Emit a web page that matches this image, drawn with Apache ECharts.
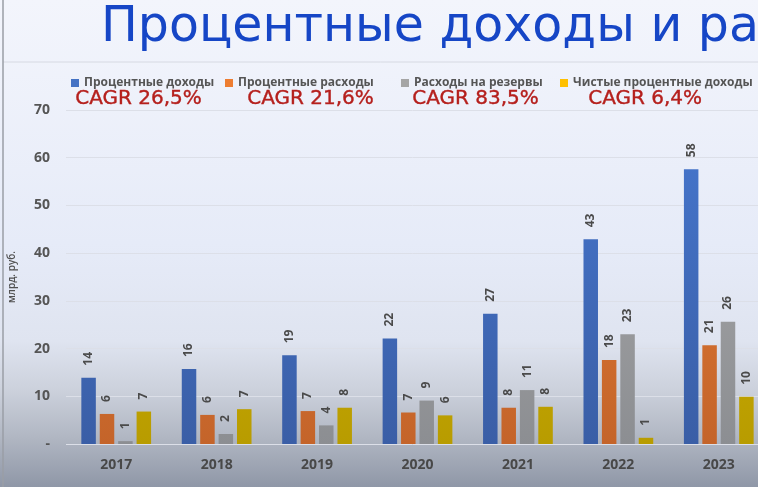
<!DOCTYPE html>
<html>
<head>
<meta charset="utf-8">
<script src="https://cdn.jsdelivr.net/npm/echarts@6/dist/echarts.min.js"></script>
<style>
html,body{margin:0;padding:0;overflow:hidden;}
#c{width:758px;height:487px;}
</style>
</head>
<body>
<div id="c"></div>
<script>
var categories = ['2017', '2018', '2019', '2020', '2021', '2022', '2023'];
var interestIncome = [13.9, 15.7, 18.6, 22.1, 27.3, 42.9, 57.6];
var interestExpense = [6.3, 6.1, 6.9, 6.6, 7.6, 17.6, 20.7];
var provisions = [0.6, 2.1, 3.9, 9.1, 11.3, 23.0, 25.6];
var netIncome = [6.8, 7.3, 7.6, 6.0, 7.8, 1.3, 9.9];
var seriesNames = ['Процентные доходы', 'Процентные расходы', 'Расходы на резервы', 'Чистые процентные доходы'];
var cagrTexts = ['CAGR 26,5%', 'CAGR 21,6%', 'CAGR 83,5%', 'CAGR 6,4%'];
var yTicks = [0, 10, 20, 30, 40, 50, 60, 70];

var chart = echarts.init(document.getElementById('c'));

function grad(top, bottom) {
  return new echarts.graphic.LinearGradient(0, 110, 0, 444, [
    {offset: 0, color: top}, {offset: 1, color: bottom}
  ], true);
}
var legendColors = ['#4472C4', '#ED7D31', '#A5A5A5', '#FFC000'];
var barColors = [
  grad('#4677cf', '#3a5ea6'),
  grad('#e88036', '#c4642a'),
  grad('#adadad', '#8c8e92'),
  grad('#dcb800', '#b89c00')
];
var dataSets = [interestIncome, interestExpense, provisions, netIncome];
var legendLefts = [66, 220, 396, 555];
var cagrLefts = [75, 247, 412, 588];

var series = dataSets.map(function (d, i) {
  return {
    name: seriesNames[i],
    type: 'bar',
    data: d,
    barWidth: 14.5,
    barGap: '27%',
    itemStyle: {color: barColors[i]},
    label: {
      show: true,
      position: 'top',
      rotate: 90,
      align: 'left',
      verticalAlign: 'middle',
      distance: 12,
      fontFamily: 'Open Sans',
      fontWeight: 'bold',
      fontSize: 12,
      color: '#4a4a4a',
      formatter: function (p) { return String(Math.round(p.value)); }
    }
  };
});

var legends = seriesNames.map(function (n, i) {
  return {
    left: legendLefts[i],
    top: 72,
    itemWidth: 8,
    itemHeight: 8,
    icon: 'rect',
    itemGap: 4,
    textStyle: {fontFamily: 'Open Sans', fontWeight: 'bold', fontSize: 12, color: '#555'},
    data: [{name: n, itemStyle: {color: legendColors[i]}}],
    selectedMode: false
  };
});

var graphics = [
  {
    type: 'rect', z: -10, silent: true,
    shape: {x: 0, y: 0, width: 758, height: 487},
    style: {
      fill: new echarts.graphic.LinearGradient(0, 0, 0, 1, [
        {offset: 0, color: '#f3f5fc'},
        {offset: 0.5, color: '#e6ebf8'},
        {offset: 0.7, color: '#dfe4f0'},
        {offset: 0.8, color: '#ccd1dc'},
        {offset: 0.9, color: '#b0b6c2'},
        {offset: 1, color: '#8f97a7'}
      ])
    }
  },
  {type: 'line', z: -5, silent: true, shape: {x1: 3, y1: 62, x2: 758, y2: 62}, style: {stroke: '#d6d9e2', lineWidth: 1}},
  {type: 'line', z: -5, silent: true, shape: {x1: 3, y1: 0, x2: 3, y2: 487}, style: {stroke: '#9a9ea6', lineWidth: 1.5}},
  {
    type: 'text', left: 101, top: 4, silent: true,
    style: {text: 'Процентные доходы и ра', fontFamily: 'DejaVu Sans', fontSize: 49, fill: '#1646c6'}
  }
];
cagrTexts.forEach(function (t, i) {
  graphics.push({
    type: 'text', left: cagrLefts[i], top: 89, silent: true,
    style: {text: t, fontFamily: 'DejaVu Sans', fontSize: 20, fill: '#b51f1c', stroke: '#b51f1c', lineWidth: 0.4}
  });
});

chart.setOption({
  animation: false,
  graphic: graphics,
  legend: legends,
  grid: {left: 66, top: 110, width: 703, bottom: 43, containLabel: false, outerBoundsMode: 'none'},
  xAxis: {
    type: 'category',
    data: categories,
    axisLine: {show: false},
    axisTick: {show: false},
    axisLabel: {margin: 14, fontFamily: 'Open Sans', fontWeight: 'bold', fontSize: 14, color: '#484848'}
  },
  yAxis: {
    type: 'value',
    min: yTicks[0],
    max: yTicks[yTicks.length - 1],
    interval: 10,
    name: 'млрд. руб.',
    nameLocation: 'middle',
    nameGap: 49,
    nameRotate: 90,
    nameTextStyle: {fontFamily: 'Open Sans', fontWeight: 600, fontSize: 10, color: '#505050'},
    axisLine: {show: false},
    axisTick: {show: false},
    splitLine: {lineStyle: {color: '#dcdfe8', width: 1}},
    axisLabel: {
      margin: 16,
      fontFamily: 'Open Sans', fontWeight: 'bold', fontSize: 14, color: '#555',
      formatter: function (v) { return v === 0 ? '-' : String(v); }
    }
  },
  series: series
});
</script>
</body>
</html>
